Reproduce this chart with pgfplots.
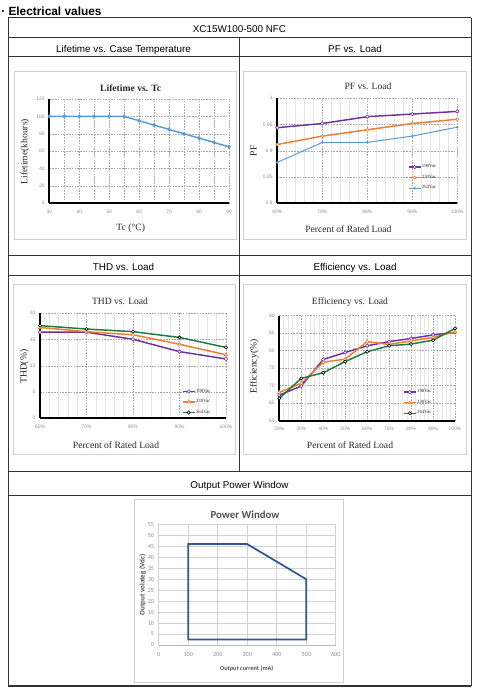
\documentclass[border=0pt]{standalone}
\usepackage{pgfplots}
\pgfplotsset{compat=1.18}
\usepackage{fontspec}
\setmainfont{Liberation Sans}
\newfontfamily\serif{Liberation Serif}
\newfontfamily\cali{Carlito}
\definecolor{cpurple}{HTML}{7030A0}
\definecolor{corange}{HTML}{ED7D31}
\definecolor{cblue}{HTML}{5B9BD5}
\definecolor{cgreen}{HTML}{1E7B3C}
\definecolor{cnavy}{HTML}{2F5597}
\definecolor{ctick}{HTML}{8C8C8C}
\definecolor{cframe}{HTML}{D0D0D0}
\definecolor{cgrid}{HTML}{A6A6A6}
\definecolor{cminor}{HTML}{E6E6E6}
\definecolor{cline}{HTML}{333333}
\definecolor{ctext}{HTML}{262626}

\pgfplotsset{
  excel/.style={
    scale only axis,
    anchor=south west,
    axis x line*=bottom, axis y line*=left,
    x axis line style={black, line width=1.3pt},
    y axis line style={black, line width=1.3pt},
    grid=both,
    major grid style={cgrid, line width=0.35pt, dash pattern=on 1.2pt off 0.9pt},
    minor grid style={cminor, line width=0.3pt},
    major tick length=0pt, minor tick length=0pt,
    tick label style={font=\fontsize{3.7}{4.2}\selectfont, text=ctick},
    xticklabel style={yshift=-1.2pt},
    /pgf/number format/assume math mode=true,
    clip=false,
    legend cell align=left,
    legend style={draw=none, fill=none, font=\serif\fontsize{3.6}{4.2}\selectfont, inner sep=0pt, outer sep=0pt, row sep=3.2pt, nodes={inner sep=0.4pt, text=ctext}},
    legend image code/.code={\draw[mark repeat=2, mark phase=2] plot coordinates {(0cm,0cm) (0.16cm,0cm) (0.32cm,0cm)};},
  },
  pct/.style={xmin=60, xmax=100, xtick={60,70,80,90,100},
    xticklabels={60\%,70\%,80\%,90\%,100\%}, minor x tick num=4},
}

\tikzset{hd/.style={inner sep=0pt, text height=0.72em, text depth=0pt}}

\begin{document}
\begin{tikzpicture}[x=0.75pt,y=0.75pt]
\useasboundingbox (0,0) rectangle (480,694);

% heading
\node[anchor=base west, font=\bfseries\fontsize{8.9}{10}\selectfont, inner sep=0pt] at (1,678) {· Electrical values};

% table lines
\begin{scope}[cline, line width=0.75pt]
\draw (8,676) -- (471,676);
\draw (8,656.5) -- (471,656.5);
\draw (8,637) -- (471,637);
\draw (8,438) -- (471,438);
\draw (8,418) -- (471,418);
\draw (8,222) -- (471,222);
\draw (8,198) -- (471,198);
\draw[line width=1.1pt] (8,8) -- (471,8);
\draw (8,676) -- (8,8);
\draw (471,676) -- (471,8);
\draw (239,656.5) -- (239,222);
\end{scope}

% table header texts
\begin{scope}[every node/.style={hd, font=\fontsize{7.4}{8}\selectfont, text=black}]
\node at (239.5,666.25) {XC15W100-500 NFC};
\node at (123.5,646.75) {Lifetime vs. Case Temperature};
\node at (355,646.75) {PF vs. Load};
\node at (123.5,428) {THD vs. Load};
\node at (355,428) {Efficiency vs. Load};
\node at (239.5,210) {Output Power Window};
\end{scope}

% chart frames
\begin{scope}[cframe, line width=0.75pt]
\draw (14,622.3) rectangle (236,454);
\draw (243,622.3) rectangle (466,454);
\draw (13.3,409) rectangle (235,239);
\draw (243,409) rectangle (466,239);
\draw (134,194) rectangle (343,11);
\end{scope}

% chart titles and labels
\begin{scope}[every node/.style={hd, font=\serif\fontsize{7.2}{8}\selectfont, text=ctext}]
\node[font=\serif\bfseries\fontsize{7.2}{8}\selectfont] at (130.7,607.3) {Lifetime vs. Tc};
\node at (130.7,468.3) {Tc (°C)};
\node[rotate=90] at (22.7,542.3) {Lifetime(khours)};
\node at (368,609.7) {PF vs. Load};
\node at (348.3,466.3) {Percent of Rated Load};
\node[rotate=90] at (251.7,543.3) {PF};
\node at (120,394.7) {THD vs. Load};
\node at (116,250) {Percent of Rated Load};
\node[rotate=90] at (21.7,327.3) {THD(\%)};
\node at (350,394.7) {Efficiency vs. Load};
\node at (350,250) {Percent of Rated Load};
\node[rotate=90] at (251.7,327.3) {Efficiency(\%)};
\end{scope}
\begin{scope}[every node/.style={hd, text=ctext!80}]
\node[font=\cali\bfseries\fontsize{8.1}{9}\selectfont] at (245,180.7) {Power Window};
\node[font=\cali\bfseries\fontsize{4.7}{5}\selectfont] at (246.7,28.3) {Output current (mA)};
\node[rotate=90, font=\cali\bfseries\fontsize{5.3}{6}\selectfont] at (139.8,109) {Output volateg (Vdc)};
\end{scope}

% ---------- Lifetime vs Tc ----------
\begin{axis}[excel, at={(36.98pt,368.03pt)}, width=134.8pt, height=78.2pt,
  xmin=30, xmax=90, ymin=0, ymax=120,
  xtick={30,40,...,90}, minor xtick={35,45,...,85}, ytick={0,20,...,120},
  minor grid style={cgrid, line width=0.35pt, dash pattern=on 1.2pt off 0.9pt}]
\addplot[cblue, line width=1.1pt, mark=diamond*, mark size=1.4pt, mark options={line width=0.4pt}] coordinates {
  (30,100) (35,100) (40,100) (45,100) (50,100) (55,100)
  (60,95) (65,90) (70,85) (75,80) (80,75) (85,70) (90,65)};
\end{axis}

% ---------- PF vs Load ----------
\begin{axis}[excel, pct, at={(207.98pt,368.03pt)}, width=135pt, height=78.75pt,
  ymin=0.8, ymax=1, ytick={0.8,0.85,0.9,0.95,1}, yticklabels={0.8,0.85,0.9,0.95,1},
  legend style={at={(0.725,0.245)}, anchor=west}]
\addplot[cpurple, line width=1.1pt, mark=*, mark size=1.3pt, mark options={fill=white, line width=0.45pt}] coordinates {
  (60,0.944) (70,0.952) (80,0.965) (90,0.970) (100,0.975)};
\addlegendentry{198Vac}
\addplot[corange, line width=1.1pt, mark=*, mark size=1.1pt, mark options={fill=white, line width=0.45pt}] coordinates {
  (60,0.912) (70,0.928) (80,0.940) (90,0.952) (100,0.960)};
\addlegendentry{230Vac}
\addplot[cblue, line width=0.75pt, mark=*, mark size=0.8pt, mark options={line width=0.3pt}] coordinates {
  (60,0.878) (70,0.916) (80,0.916) (90,0.928) (100,0.945)};
\addlegendentry{264Vac}
\end{axis}

% ---------- THD vs Load ----------
\begin{axis}[excel, pct, at={(30pt,206.78pt)}, width=139.5pt, height=78.75pt,
  ymin=0, ymax=20, ytick={0,5,...,20},
  legend style={at={(0.763,0.155)}, anchor=west}]
\addplot[cpurple, line width=1.1pt, mark=*, mark size=1.3pt, mark options={fill=white, line width=0.45pt}] coordinates {
  (60,16.4) (70,16.4) (80,15.05) (90,12.7) (100,11.3)};
\addlegendentry{198Vac}
\addplot[corange, line width=1.1pt, mark=triangle*, mark size=1.5pt, mark options={fill=white, line width=0.45pt}] coordinates {
  (60,17.3) (70,16.5) (80,15.9) (90,14.1) (100,12.1)};
\addlegendentry{230Vac}
\addplot[cgreen, line width=1.1pt, mark=*, mark size=1.2pt, mark options={fill=white, draw=black, line width=0.45pt}] coordinates {
  (60,17.65) (70,17.0) (80,16.5) (90,15.4) (100,13.5)};
\addlegendentry{264Vac}
\end{axis}

% ---------- Efficiency vs Load ----------
\begin{axis}[excel, at={(209.48pt,204.98pt)}, width=131.8pt, height=78.75pt,
  xmin=20, xmax=100, xtick={20,30,...,100}, minor x tick num=4,
  xticklabels={20\%,30\%,40\%,50\%,60\%,70\%,80\%,90\%,100\%},
  ymin=60, ymax=90, ytick={60,65,...,90},
  legend style={at={(0.704,0.171)}, anchor=west}]
\addplot[cpurple, line width=1.1pt, mark=*, mark size=1.3pt, mark options={fill=white, line width=0.45pt}] coordinates {
  (20,67.3) (30,69.9) (40,77.5) (50,79.5) (60,81.4) (70,82.6) (80,83.5) (90,84.5) (100,85.2)};
\addlegendentry{198Vac}
\addplot[corange, line width=1.1pt, mark=triangle*, mark size=1.5pt, mark options={fill=white, line width=0.45pt}] coordinates {
  (20,68.1) (30,70.7) (40,76.7) (50,77.6) (60,82.6) (70,81.8) (80,82.8) (90,83.8) (100,85.4)};
\addlegendentry{230Vac}
\addplot[cgreen, line width=1.1pt, mark=*, mark size=1.2pt, mark options={fill=white, draw=black, line width=0.45pt}] coordinates {
  (20,66.4) (30,72.1) (40,73.7) (50,76.9) (60,79.7) (70,81.4) (80,81.9) (90,83.0) (100,86.4)};
\addlegendentry{264Vac}
\end{axis}

% ---------- Power Window ----------
\begin{axis}[scale only axis, anchor=south west, at={(119.03pt,36.75pt)}, width=132.75pt, height=90.5pt,
  xmin=0, xmax=600, ymin=0, ymax=55, xtick={0,100,...,600}, ytick={0,5,...,55},
  grid=major, major grid style={cminor!80!gray, line width=0.45pt},
  axis x line*=bottom, axis y line*=left,
  x axis line style={ctick!60, line width=0.5pt}, y axis line style={draw=none},
  major tick length=0pt,
  tick label style={font=\cali\fontsize{4.6}{5}\selectfont, text=ctick},
  xticklabel style={yshift=-2pt},
  /pgf/number format/assume math mode=true, clip=false]
\addplot[cnavy, line width=1.3pt, line cap=rect, line join=miter] coordinates {
  (100,2.5) (100,46) (300,46) (500,30) (500,2.5) (100,2.5)};
\end{axis}

\end{tikzpicture}
\end{document}
